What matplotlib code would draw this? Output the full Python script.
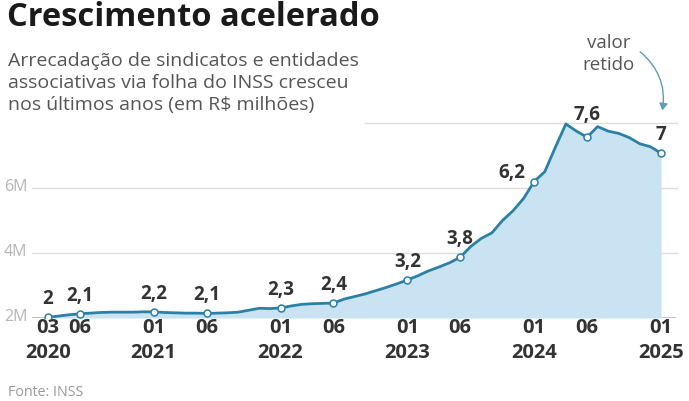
import matplotlib.pyplot as plt
from matplotlib.patches import FancyArrowPatch

# monthly values, 03/2020 .. 01/2025 (R$ millions)
values = [2.02, 2.06, 2.10, 2.13, 2.15, 2.17, 2.18, 2.18, 2.18, 2.19,
          2.19, 2.17, 2.16, 2.15, 2.15, 2.14, 2.15, 2.16, 2.18, 2.24,
          2.30, 2.29, 2.31, 2.37, 2.42, 2.44, 2.45, 2.46, 2.58, 2.66,
          2.74, 2.84, 2.94, 3.05, 3.17, 3.30, 3.45, 3.57, 3.70, 3.87,
          4.20, 4.45, 4.62, 5.00, 5.30, 5.68, 6.20, 6.50, 7.25, 7.97,
          7.75, 7.56, 7.89, 7.75, 7.68, 7.55, 7.36, 7.27, 7.07]
months = list(range(len(values)))

# highlighted points (month index) and their labels
mark_idx = [0, 3, 10, 15, 22, 27, 34, 39, 46, 51, 58]
mark_txt = ["2", "2,1", "2,2", "2,1", "2,3", "2,4", "3,2", "3,8", "6,2", "7,6", "7"]

tick_idx = [0, 3, 10, 15, 22, 27, 34, 39, 46, 51, 58]
tick_month = ["03", "06", "01", "06", "01", "06", "01", "06", "01", "06", "01"]
tick_year = ["2020", "", "2021", "", "2022", "", "2023", "", "2024", "", "2025"]

grid_vals = [4, 6, 8]
ylabels = {2: "2M", 4: "4M", 6: "6M"}

plt.rcParams['font.family'] = ['Open Sans', 'DejaVu Sans']

LINE = "#2c80a6"
FILL = "#c9e3f2"
W, H = 689, 401

fig = plt.figure(figsize=(6.89, 4.01), dpi=100)
fig.patch.set_facecolor("white")
ax = fig.add_axes([32 / W, (H - 318) / H, (678 - 32) / W, (318 - 110) / H])
px_per_month = (661 - 48) / 58
ax.set_xlim(-16 / px_per_month, (678 - 48) / px_per_month)
ax.set_ylim(2, 2 + (318 - 110) / 32.5)
ax.axis("off")

# gridlines
for g in grid_vals:
    x0 = -16 / px_per_month if g < 8 else (365 - 48) / px_per_month
    ax.plot([x0, (678 - 48) / px_per_month], [g, g], color="#dddddd", lw=1, zorder=0)
ax.plot([-16 / px_per_month, (675 - 48) / px_per_month], [2, 2], color="#b5b5b5", lw=1.2, zorder=1)

ax.fill_between(months, 2, values, color=FILL, lw=0, zorder=1)
ax.plot(months, values, color=LINE, lw=2, zorder=3)
ax.plot(mark_idx, [values[i] for i in mark_idx], "o", ms=5, mfc="white",
        mec=LINE, mew=1.1, zorder=4)

for i, t in zip(mark_idx, mark_txt):
    if t == "6,2":
        off = (-16, 6)
    elif t == "7,6":
        off = (0, 16)
    else:
        off = (0, 13)
    ax.annotate(t, (i, values[i]), xytext=off, textcoords="offset points",
                ha="center", va="center", fontsize=13.5, fontweight="bold", color="#333333")

for i, m, y in zip(tick_idx, tick_month, tick_year):
    ax.annotate(m, (i, 2), xytext=(0, -7), textcoords="offset points",
                ha="center", va="center", fontsize=14.5, fontweight="bold",
                color="#333333", annotation_clip=False)
    if y:
        ax.annotate(y, (i, 2), xytext=(0, -25), textcoords="offset points",
                    ha="center", va="center", fontsize=14.5, fontweight="bold",
                    color="#333333", annotation_clip=False)

for v, t in ylabels.items():
    fig.text(4 / W, 1 - (187 + (v - 6) * -32.5) / H, t, ha="left", va="center",
             fontsize=11.5, color="#b5b5b5")

fig.text(7 / W, 1 - 17 / H, "Crescimento acelerado", fontsize=23.5, fontweight="bold",
         color="#1a1a1a", va="center", ha="left")
fig.text(8 / W, 1 - 52 / H,
         "Arrecadação de sindicatos e entidades\nassociativas via folha do INSS cresceu\nnos últimos anos (em R$ milhões)",
         fontsize=14, color="#555555", va="top", ha="left", linespacing=1.27)
fig.text(8 / W, 1 - 393 / H, "Fonte: INSS", fontsize=10.3, color="#999999", va="center")

fig.text(609 / W, 1 - 54 / H, "valor\nretido", fontsize=13.5, color="#555555",
         ha="center", va="center", linespacing=1.25)
arr = FancyArrowPatch((638 / W, 1 - 50 / H), (662 / W, 1 - 113 / H),
                      transform=fig.transFigure, connectionstyle="arc3,rad=-0.3",
                      arrowstyle="-|>,head_length=4,head_width=2.5", color="#5b9fb3", lw=1)
fig.patches.append(arr)

fig.savefig("out.png", dpi=100)
